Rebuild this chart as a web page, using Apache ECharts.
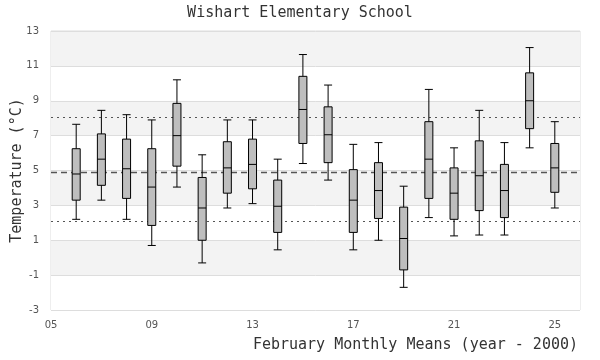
<!DOCTYPE html>
<html>
<head>
<meta charset="utf-8">
<script src="https://cdn.jsdelivr.net/npm/echarts@6/dist/echarts.min.js"></script>
<style>html,body{margin:0;padding:0;background:#fff}#c{width:600px;height:360px}</style>
</head>
<body>
<div id="c"></div>
<script>
// Category slots (year - 2000); 05 and 26 are empty edge slots
var categories = ['05','06','07','08','09','10','11','12','13','14','15','16','17','18','19','20','21','22','23','24','25','26'];
var boxYears    = ['06','07','08','09','10','11','12','13','14','15','16','17','18','19','20','21','22','23','24','25'];
var whiskerLow  = [2.2, 3.3, 2.2, 0.7, 4.05, -0.3, 2.85, 3.1, 0.45, 5.4, 4.45, 0.45, 1.0, -1.7, 2.3, 1.25, 1.3, 1.3, 6.3, 2.85];
var q1          = [3.3, 4.15, 3.4, 1.85, 5.25, 1.0, 3.7, 3.95, 1.45, 6.55, 5.45, 1.45, 2.25, -0.7, 3.4, 2.2, 2.7, 2.3, 7.4, 3.75];
var median      = [4.8, 5.65, 5.1, 4.05, 7.0, 2.85, 5.15, 5.35, 2.95, 8.5, 7.05, 3.3, 3.85, 1.1, 5.65, 3.7, 4.7, 3.85, 9.0, 5.15];
var q3          = [6.25, 7.1, 6.8, 6.25, 8.85, 4.6, 6.65, 6.8, 4.45, 10.4, 8.65, 5.05, 5.45, 2.9, 7.8, 5.15, 6.7, 5.35, 10.6, 6.55];
var whiskerHigh = [7.65, 8.45, 8.2, 7.9, 10.2, 5.9, 7.9, 7.9, 5.65, 11.65, 9.9, 6.5, 6.6, 4.1, 9.65, 6.3, 8.45, 6.6, 12.05, 7.8];
var upperRef = 8.05;
var meanRef  = 4.9;
var lowerRef = 2.1;
var yTicks = [-3, -1, 1, 3, 5, 7, 9, 11, 13];

var boxData = categories.map(function (c) {
  var i = boxYears.indexOf(c);
  if (i < 0) return ['-', '-', '-', '-', '-'];
  return [whiskerLow[i], q1[i], median[i], q3[i], whiskerHigh[i]];
});

var mono = 'DejaVu Sans Mono';
var chart = echarts.init(document.getElementById('c'), null, {renderer: 'canvas'});
chart.setOption({
  animation: false,
  backgroundColor: '#fff',
  title: [{
    text: 'Wishart Elementary School',
    left: 'center', top: 6, padding: 0,
    textStyle: {fontFamily: mono, fontSize: 15, fontWeight: 'normal', color: '#333'}
  }, {
    text: 'February Monthly Means (year - 2000)',
    right: 22, top: 338, padding: 0,
    textStyle: {fontFamily: mono, fontSize: 15, fontWeight: 'normal', color: '#333'}
  }],
  grid: {left: 51, right: 20, top: 31, bottom: 50, outerBoundsMode: 'none', containLabel: false, show: true, borderColor: '#dddddd', borderWidth: 1, backgroundColor: 'transparent'},
  xAxis: {
    type: 'category',
    data: categories,
    boundaryGap: false,
    axisLine: {show: false},
    axisTick: {show: false},
    axisLabel: {interval: 3, fontFamily: 'DejaVu Sans', fontSize: 10, color: '#555', margin: 10},
    splitLine: {show: false}
  },
  yAxis: {
    type: 'value',
    min: yTicks[0], max: yTicks[yTicks.length - 1], interval: 2,
    name: 'Temperature (°C)',
    nameLocation: 'middle',
    nameGap: 26,
    nameMoveOverlap: false,
    nameTextStyle: {fontFamily: mono, fontSize: 15, color: '#333'},
    axisLine: {show: false},
    axisTick: {show: false},
    axisLabel: {fontFamily: 'DejaVu Sans', fontSize: 10, color: '#555', margin: 12},
    splitLine: {show: true, lineStyle: {color: '#dddddd', width: 1}},
    splitArea: {show: true, areaStyle: {color: ['#ffffff', '#f3f3f3']}}
  },
  series: [{
    type: 'boxplot',
    data: boxData,
    boxWidth: [8, 8],
    itemStyle: {color: '#bebebe', borderColor: '#000', borderWidth: 1},
    silent: true,
    z: 5,
    markLine: {
      silent: true,
      symbol: ['none', 'none'],
      label: {show: false},
      z: 3,
      data: [
        {yAxis: upperRef, lineStyle: {color: '#555', type: [2, 4], width: 1}},
        {yAxis: meanRef, lineStyle: {color: '#555', type: [6, 4], width: 1.3}},
        {yAxis: lowerRef, lineStyle: {color: '#555', type: [2, 4], width: 1}}
      ]
    }
  }]
});
</script>
</body>
</html>
